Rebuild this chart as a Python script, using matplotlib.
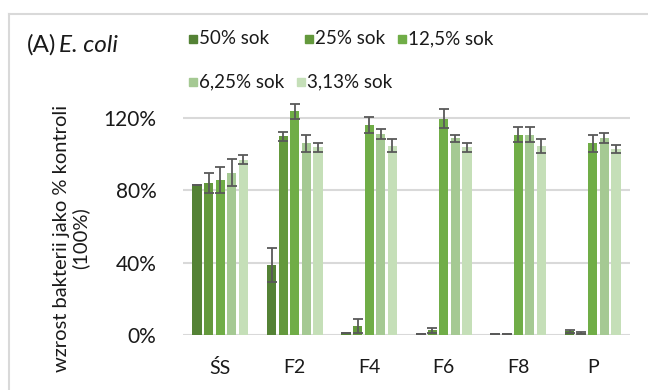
import numpy as np
import matplotlib
matplotlib.use("Agg")
import matplotlib.pyplot as plt
from matplotlib.patches import Rectangle
from matplotlib.lines import Line2D

plt.rcParams['font.family'] = ['Lato', 'DejaVu Sans']

categories = ["ŚS", "F2", "F4", "F6", "F8", "P"]
series_names = ["50% sok", "25% sok", "12,5% sok", "6,25% sok", "3,13% sok"]

# growth as % of control, one list per juice concentration (order = categories)
sok_50 = [83.0, 38.7, 1.0, 0.5, 0.5, 2.0]
sok_25 = [84.0, 110.0, 5.0, 2.5, 0.5, 1.0]
sok_12_5 = [85.7, 123.8, 116.0, 119.6, 110.9, 106.0]
sok_6_25 = [89.8, 106.0, 111.0, 108.8, 110.9, 109.0]
sok_3_13 = [97.0, 104.0, 104.8, 104.0, 104.5, 102.8]

err_50 = [0.0, 9.2, 0.0, 0.0, 0.0, 1.0]
err_25 = [5.4, 2.5, 4.0, 1.6, 0.0, 0.5]
err_12_5 = [7.0, 4.0, 4.4, 5.2, 4.0, 4.6]
err_6_25 = [7.4, 4.6, 2.8, 1.8, 4.0, 2.6]
err_3_13 = [2.5, 2.5, 3.4, 2.5, 3.7, 2.3]

y_ticks = [0, 40, 80, 120]
y_tick_labels = ["0%", "40%", "80%", "120%"]

values = [sok_50, sok_25, sok_12_5, sok_6_25, sok_3_13]
errors = [err_50, err_25, err_12_5, err_6_25, err_3_13]
colors = ["#548235", "#64993d", "#70ad47", "#a5c993", "#c5dfb8"]

fig = plt.figure(figsize=(6.48, 3.90), dpi=100)
ax = fig.add_axes([183 / 648, 55 / 390, 447 / 648, 253 / 390])

x = np.arange(len(categories))
slot = 0.156
bar_w = 0.121
for i, (vals, errs, col) in enumerate(zip(values, errors, colors)):
    pos = x + (i - 2) * slot
    ax.bar(pos, vals, width=bar_w, color=col, zorder=2)
    ax.errorbar(pos, vals, yerr=errs, fmt='none', ecolor="#595959",
                elinewidth=1.3, capsize=3.3, capthick=1.3, zorder=3)

ax.set_xlim(-0.5, len(categories) - 0.5)
ax.set_ylim(0, 140)
ax.set_yticks(y_ticks)
ax.set_yticklabels(y_tick_labels)
ax.set_xticks(x)
ax.set_xticklabels(categories)
for t in y_ticks:
    ax.axhline(t, color="#d9d9d9", lw=1.5, zorder=1)
for s in ax.spines.values():
    s.set_visible(False)
ax.tick_params(axis='y', length=0, pad=19, labelsize=15, labelcolor="#1a1a1a")
ax.tick_params(axis='x', length=0, pad=17, labelsize=14, labelcolor="#1a1a1a")

fig.text(71 / 648, 1 - 238 / 390, "wzrost bakterii jako % kontroli\n(100%)",
         rotation=90, ha='center', va='center', fontsize=14.5, color="#1a1a1a",
         linespacing=1.1, multialignment='center')

# title
fig.text(27 / 648, 1 - 52 / 390, "(A)", fontsize=17.5, color="#1a1a1a", va='baseline')
fig.text(59 / 648, 1 - 52 / 390, "E. coli", fontsize=17.5, style='italic',
         color="#1a1a1a", va='baseline')

# legend entries laid out in rows
legend_pos = [(189, 39), (305, 39), (398, 39), (189, 82), (297, 82)]
for (px, py), name, col in zip(legend_pos, series_names, colors):
    fig.patches.append(Rectangle(((px) / 648, 1 - (py + 4) / 390), 8 / 648, 8 / 390,
                                 transform=fig.transFigure, color=col))
    fig.text((px + 10) / 648, 1 - py / 390, name, fontsize=13.5, va='center',
             color="#1a1a1a")

# chart frame (top and left edges)
fig.lines.append(Line2D([8.5 / 648, 1], [1 - 14 / 390, 1 - 14 / 390],
                        transform=fig.transFigure, color="#d9d9d9", lw=1.5))
fig.lines.append(Line2D([8.5 / 648, 8.5 / 648], [0, 1 - 14 / 390],
                        transform=fig.transFigure, color="#d9d9d9", lw=1.5))

fig.savefig("out.png", dpi=100)
